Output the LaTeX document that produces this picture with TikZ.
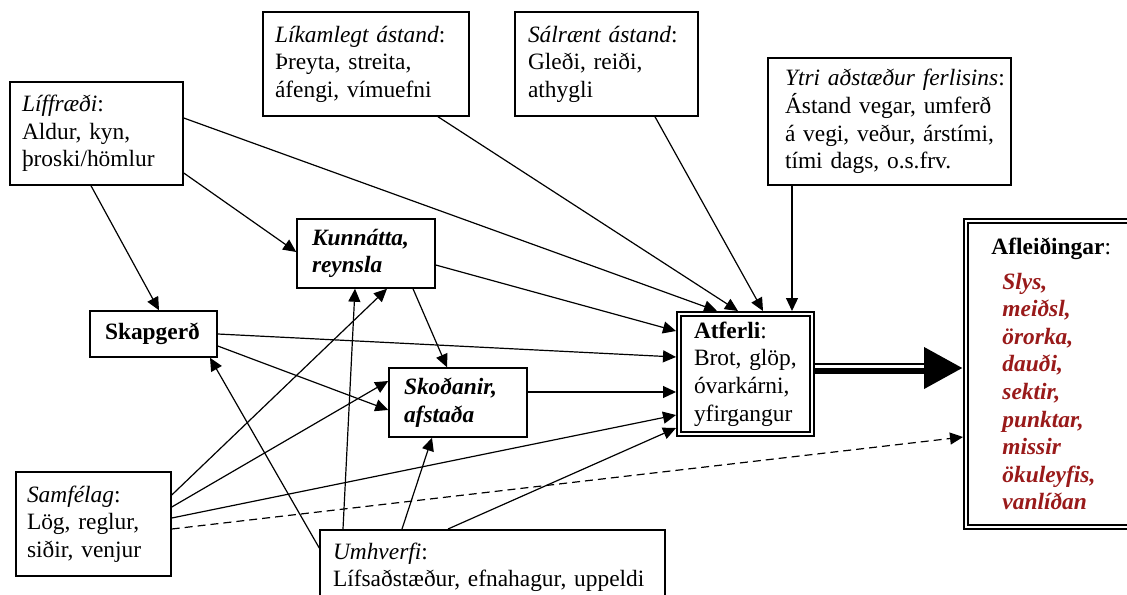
\documentclass[tikz,border=0pt]{standalone}
\usepackage{fontspec}
\setmainfont{Liberation Serif}
\usetikzlibrary{arrows.meta}
\definecolor{aflred}{RGB}{153,26,26}
\newcommand\keep[1]{\mbox{#1}}
\newcommand\rl[1]{\hspace*{5.5pt}{\color{aflred}\bfseries\itshape #1}}
\tikzset{
  box/.style={draw, line width=0.75pt, align=left, inner ysep=0pt, font=\fontsize{11.7}{13.8}\selectfont},
  dbox/.style={draw, double, double distance=1pt, line width=0.9pt, outer sep=1.4pt, align=left, inner ysep=0pt, font=\fontsize{11.7}{13.8}\selectfont},
  arr/.style={line width=0.6pt, -{Triangle[length=6.5pt,width=6pt]}},
  darr/.style={arr, dash pattern=on 4pt off 2.5pt},
}
\begin{document}
\begin{tikzpicture}[x=0.5pt,y=-0.5pt]
\useasboundingbox (0,0) rectangle (1127,594);
\clip (0,0) rectangle (1127,594);
% boxes
\node[box, text width=74.5pt, inner xsep=6pt, minimum height=51.5pt] (lif) at (96.5,133.5)
  {\keep{\textit{Líffræði}:}\\ \keep{Aldur, kyn,}\\ \keep{þroski/hömlur}};
\node[box, text width=91pt, inner xsep=6pt, minimum height=52pt] (lik) at (366,64)
  {\keep{\textit{Líkamlegt ástand}:}\\ \keep{Þreyta, streita,}\\ \keep{áfengi, vímuefni}};
\node[box, text width=78.5pt, inner xsep=6.5pt, minimum height=52pt] (sal) at (606.5,64)
  {\keep{\textit{Sálrænt ástand}:}\\ \keep{Gleði, reiði,}\\ \keep{athygli}};
\node[box, text width=104.5pt, inner xsep=8.5pt, minimum height=63.5pt] (ytr) at (889.5,121.5)
  {\keep{\textit{Ytri aðstæður ferlisins}:}\\ \keep{Ástand vegar, umferð}\\ \keep{á vegi, veður, árstími,}\\ \keep{tími dags, o.s.frv.}};
\node[box, text width=54pt, inner xsep=7.5pt, minimum height=34.5pt] (kun) at (366,253.5)
  {\keep{\textbf{\textit{Kunnátta,}}}\\ \keep{\textbf{\textit{reynsla}}}};
\node[box, text width=48.5pt, inner xsep=7.5pt, minimum height=23pt] (ska) at (153.5,334)
  {\keep{\textbf{Skapgerð}}};
\node[box, text width=54pt, inner xsep=7.5pt, minimum height=34.5pt] (sko) at (458,402.5)
  {\keep{\textbf{\textit{Skoðanir,}}}\\ \keep{\textbf{\textit{afstaða}}}};
\node[dbox, text width=51.5pt, inner xsep=7.6pt, minimum height=60.2pt] (atf) at (745.5,374)
  {\keep{\textbf{Atferli}:}\\ \keep{Brot, glöp,}\\ \keep{óvarkárni,}\\ \keep{yfirgangur}};
\node[dbox, text width=60.1pt, inner xsep=12.8pt, minimum height=153.2pt] (afl) at (1051.5,374)
  {\keep{\textbf{Afleiðingar}:}\\[3.5pt] \rl{Slys,}\\ \rl{meiðsl,}\\ \rl{örorka,}\\ \rl{dauði,}\\ \rl{sektir,}\\ \rl{punktar,}\\ \rl{missir}\\ \rl{ökuleyfis,}\\ \rl{vanlíðan}};
\node[box, text width=66.5pt, inner xsep=5.5pt, minimum height=52pt] (sam) at (93.5,524)
  {\keep{\textit{Samfélag}:}\\ \keep{Lög, reglur,}\\ \keep{siðir, venjur}};
\node[box, text width=159.5pt, inner xsep=6.5pt, inner ysep=6.5pt, anchor=north] (umh) at (492.5,529)
  {\keep{\textit{Umhverfi}:}\\ \keep{Lífsaðstæður, efnahagur, uppeldi}};
% connectors into Atferli
\draw[arr] ([yshift=7.75pt]lif.east) -- ([xshift=-14.25pt]atf.north);
\draw[arr] ([xshift=36pt]lik.south) -- ([xshift=-3.75pt]atf.north);
\draw[arr] ([xshift=24.25pt]sal.south) -- ([xshift=8.75pt]atf.north);
\draw[arr] ([xshift=-48.75pt]ytr.south) -- ([xshift=23.25pt]atf.north);
\draw[arr] ([yshift=-5.75pt]kun.east) -- ([yshift=21.5pt]atf.west);
\draw[arr] (ska.east) -- ([yshift=8.5pt]atf.west);
\draw[arr] ([yshift=5.25pt]sko.east) -- ([yshift=-9pt]atf.west);
\draw[arr] ([yshift=3pt]sam.east) -- ([yshift=-20.5pt]atf.west);
\draw[arr] ([xshift=-22.25pt]umh.north) -- ([yshift=-27pt]atf.west);
% other connectors
\draw[arr] ([yshift=-19.75pt]lif.east) -- ([yshift=0.75pt]kun.west);
\draw[arr] ([xshift=-2.75pt]lif.south) -- ([xshift=2.75pt]ska.north);
\draw[arr] ([xshift=23.5pt]kun.south) -- ([xshift=-5.5pt]sko.north);
\draw[arr] ([yshift=-6pt]ska.east) -- ([yshift=-3.75pt]sko.west);
\draw[arr] ([yshift=8.5pt]sam.east) -- ([yshift=10.75pt]sko.west);
\draw[arr] ([yshift=14.5pt]sam.east) -- ([xshift=10.5pt]kun.south);
\draw[arr] ([xshift=-74.75pt]umh.north) -- ([xshift=-5.5pt]kun.south);
\draw[arr] ([yshift=-9.5pt]umh.north west) -- ([xshift=28.25pt]ska.south);
\draw[arr] ([xshift=-45.25pt]umh.north) -- ([xshift=-13pt]sko.south);
\draw[darr] ([yshift=-2.5pt]sam.east) -- ([yshift=-31.5pt]afl.west);
% big arrow
\draw[line width=5.5pt, -{Triangle[length=19.5pt,width=19.5pt]}] ([yshift=3pt]atf.east) -- ([yshift=3pt]afl.west);
\draw[white, line width=1.5pt, shorten >=19.5pt] ([yshift=3.65pt]atf.east) -- ([yshift=3.65pt]afl.west);
\end{tikzpicture}
\end{document}
